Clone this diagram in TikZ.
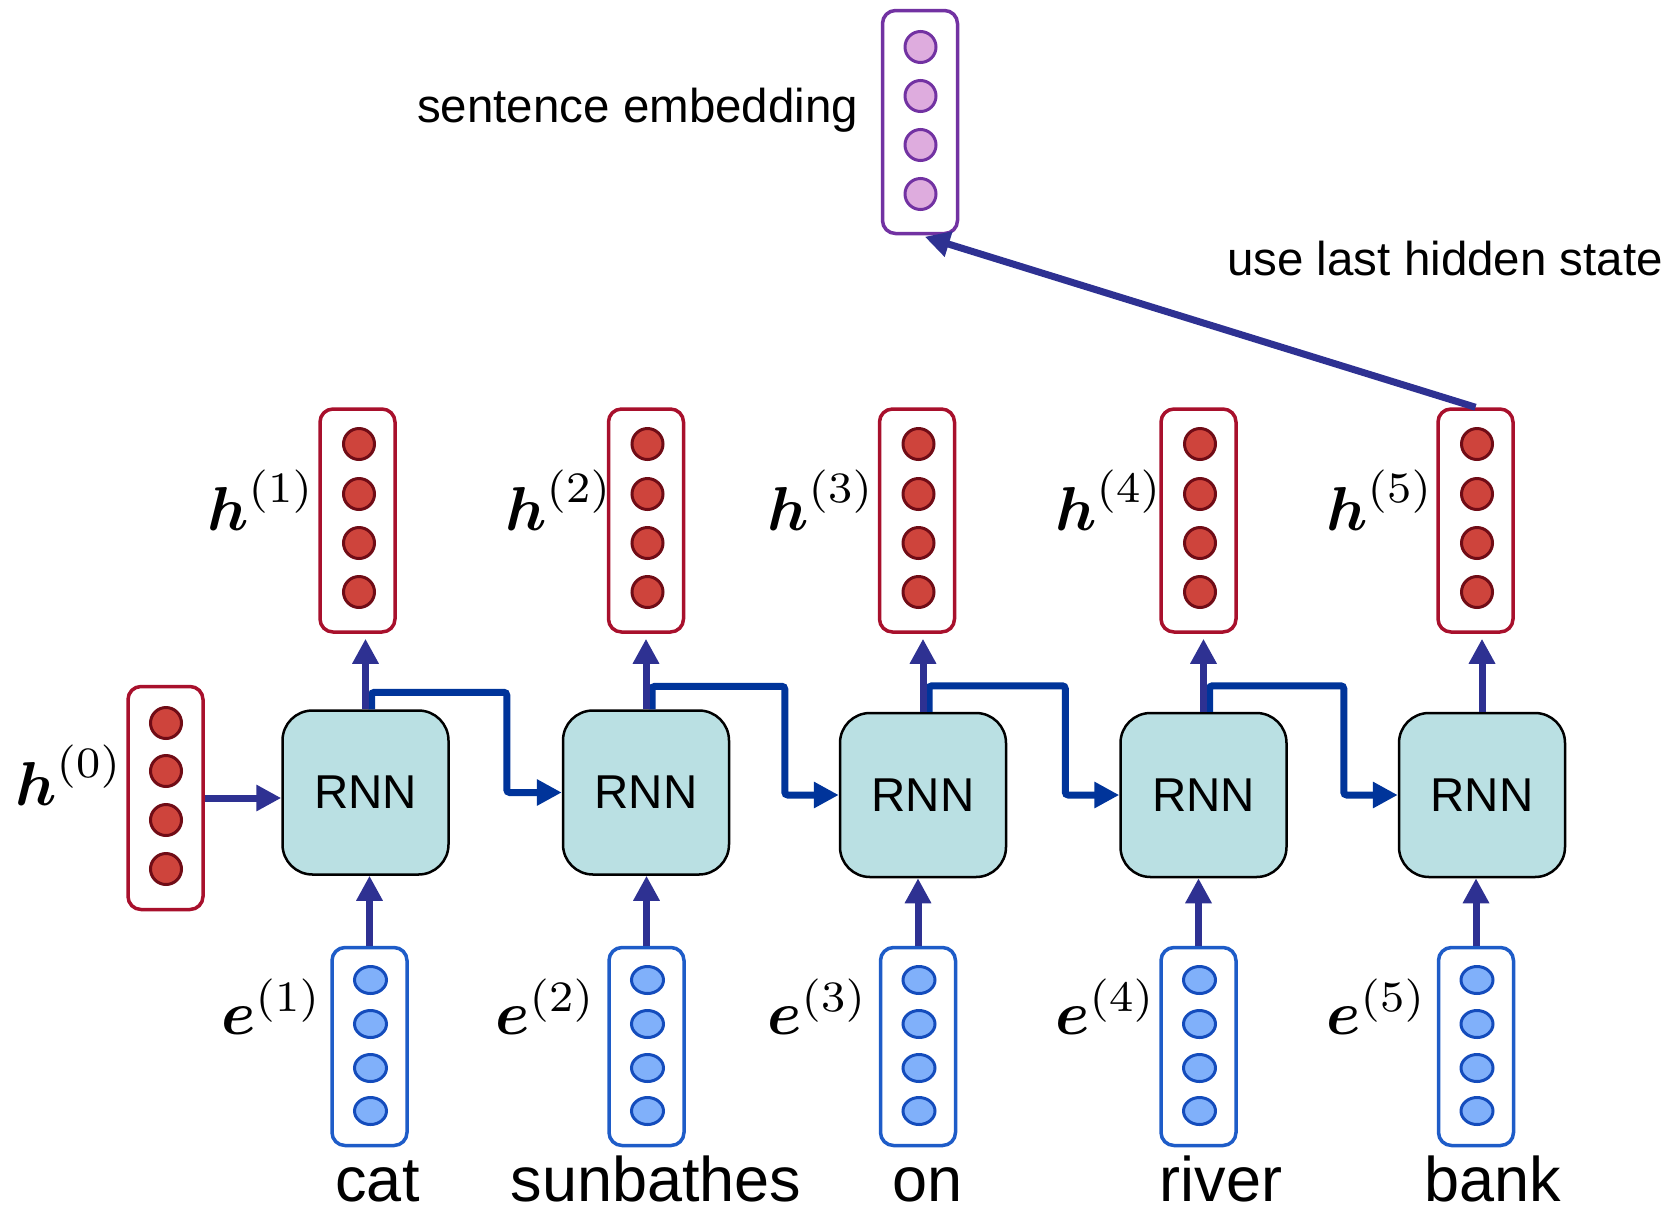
\documentclass[tikz,border=0pt]{standalone}
\usepackage{amsmath}
\usepackage{graphicx}
\usepackage[no-math]{fontspec}
\setmainfont{Liberation Sans}
\usetikzlibrary{arrows.meta,shapes.geometric}

\definecolor{hborder}{RGB}{168,16,44}
\definecolor{hdotfill}{RGB}{206,68,60}
\definecolor{hdotline}{RGB}{112,12,22}
\definecolor{eborder}{RGB}{30,92,200}
\definecolor{edotfill}{RGB}{128,176,250}
\definecolor{edotline}{RGB}{20,76,188}
\definecolor{pborder}{RGB}{114,50,162}
\definecolor{pdotfill}{RGB}{222,172,222}
\definecolor{rnnfill}{RGB}{186,224,227}
\definecolor{arrowblue}{RGB}{46,49,146}
\definecolor{linkblue}{RGB}{0,52,154}

% large bold math symbol with a parenthesised index
\newcommand{\vecsym}[2]{\scalebox{6.2}{$\boldsymbol{#1}^{(#2)}$}}

\begin{document}
\begin{tikzpicture}[x=1pt,y=-1pt,
  vecbox/.style={rectangle, rounded corners=13pt, line width=3.5pt, fill=white,
    inner sep=0pt, minimum width=75pt},
  hbox/.style={vecbox, draw=hborder, minimum height=223pt},
  ebox/.style={vecbox, draw=eborder, minimum height=198pt},
  pbox/.style={vecbox, draw=pborder, minimum height=223pt},
  hdot/.style={circle, draw=hdotline, fill=hdotfill, line width=3pt,
    minimum size=31pt, inner sep=0pt},
  edot/.style={ellipse, draw=edotline, fill=edotfill, line width=3pt,
    minimum width=32pt, minimum height=27pt, inner sep=0pt},
  pdot/.style={circle, draw=pborder, fill=pdotfill, line width=3pt,
    minimum size=31pt, inner sep=0pt},
  rnn/.style={rectangle, rounded corners=30pt, draw=black, line width=2.5pt,
    fill=rnnfill, minimum width=166pt, minimum height=164pt, inner sep=0pt,
    font=\fontsize{47.5}{50}\selectfont},
  uparrow/.style={draw=arrowblue, line width=7pt,
    -{Triangle[length=25pt,width=25pt]}},
  elbow/.style={draw=linkblue, line width=7pt, rounded corners=3pt,
    -{Triangle[length=25pt,width=25pt]}},
  lbl/.style={inner sep=0pt, font=\fontsize{47.5}{50}\selectfont},
  word/.style={inner sep=0pt, anchor=base, font=\fontsize{63}{66}\selectfont},
  mlbl/.style={inner sep=0pt, anchor=base west}
]
\useasboundingbox (0,0) rectangle (1679,1216);

% initial hidden state
\node[hbox] (h0) at (165.5,798) {};
\foreach \i/\y in {1/723,2/771,3/820,4/869}
  \node[hdot] (h0-\i) at (166,\y) {};
\node[mlbl] (lh0) at (15,805) {\vecsym{h}{0}};

% hidden states
\foreach \k/\x in {1/357.5,2/646,3/917,4/1198.5,5/1475.5}{
  \node[hbox] (h\k) at (\x,520.5) {};
  \foreach \i/\y in {1/444,2/494,3/543,4/592}
    \node[hdot] (h\k-\i) at (\x+1.5,\y) {};
}

% word embeddings
\foreach \k/\x in {1/369.5,2/646.5,3/918,4/1198.5,5/1476}{
  \node[ebox] (e\k) at (\x,1046.5) {};
  \foreach \i/\y in {1/980,2/1024,3/1068,4/1111}
    \node[edot] (e\k-\i) at (\x+1,\y) {};
}

% sentence embedding
\node[pbox] (emb) at (920,122) {};
\foreach \i/\y in {1/47,2/96,3/145,4/194}
  \node[pdot] (emb-\i) at (920.5,\y) {};

% RNN cells
\node[rnn] (r1) at (365.5,792.5) {RNN};
\node[rnn] (r2) at (646,792.5) {RNN};
\node[rnn] (r3) at (923,795) {RNN};
\node[rnn] (r4) at (1203.5,795) {RNN};
\node[rnn] (r5) at (1482,795) {RNN};

% labels
\foreach \k/\x in {1/207,2/505,3/767,4/1055,5/1326}{
  \node[mlbl] (lh\k) at (\x,530) {\vecsym{h}{\k}};
}
\foreach \k/\x in {1/221,2/495,3/767,4/1055,5/1326}{
  \node[mlbl] (le\k) at (\x,1034) {\vecsym{e}{\k}};
}
\node[word] (w1) at (377.5,1201) {cat};
\node[word] (w2) at (656,1201) {sunbathes};
\node[word] (w3) at (927.5,1201) {on};
\node[word] (w4) at (1221,1201) {river};
\node[word] (w5) at (1492.5,1201) {bank};
\node[lbl, anchor=base west] (tEmb) at (417,122) {sentence embedding};
\node[lbl, anchor=base west] (tLast) at (1227,275) {use last hidden state};

% recurrent links between cells
\draw[elbow] ([xshift=6pt]r1.north) -- ++(0,-17) -| ([xshift=-55pt]r2.west) -- (r2.west);
\draw[elbow] ([xshift=6pt]r2.north) -- ++(0,-23) -| ([xshift=-54pt]r3.west) -- (r3.west);
\draw[elbow] ([xshift=6pt]r3.north) -- ++(0,-26) -| ([xshift=-54pt]r4.west) -- (r4.west);
\draw[elbow] ([xshift=6pt]r4.north) -- ++(0,-26) -| ([xshift=-54pt]r5.west) -- (r5.west);

% inputs and outputs
\draw[uparrow] (h0.east) -- (h0.east -| r1.west);
\foreach \k in {1,...,5}{
  \draw[uparrow] (e\k.north) -- (e\k.north |- r\k.south);
  \draw[uparrow, shorten >=5pt] (r\k.north) -- (r\k.north |- h\k.south);
}
\draw[uparrow, shorten >=5pt] (h5.north) -- (emb.south);
\end{tikzpicture}
\end{document}
